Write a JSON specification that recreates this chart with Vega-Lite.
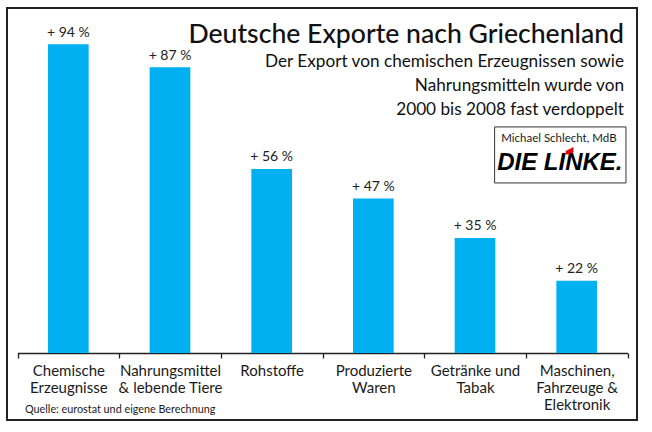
{
  "$schema": "https://vega.github.io/schema/vega-lite/v6.json",
  "width": 630,
  "height": 412,
  "autosize": "none",
  "padding": {"left": 7, "top": 8, "right": 15, "bottom": 12},
  "background": "white",
  "config": {
    "view": {"stroke": "#222222", "strokeWidth": 2},
    "font": "Lato",
    "axis": {"grid": false}
  },
  "title": {
    "text": "Deutsche Exporte nach Griechenland",
    "subtitle": ["Der Export von chemischen Erzeugnissen sowie", "Nahrungsmitteln wurde von", "2000 bis 2008 fast verdoppelt"],
    "orient": "top",
    "anchor": "end",
    "frame": "group",
    "offset": -110,
    "dx": -13,
    "font": "Lato",
    "fontSize": 26.6,
    "fontWeight": 500,
    "color": "#111111",
    "subtitleFont": "Lato",
    "subtitleFontSize": 17.2,
    "subtitleLineHeight": 24,
    "subtitlePadding": 4,
    "subtitleColor": "#111111"
  },
  "resolve": {"scale": {"x": "independent"}},
  "layer": [
    {
      "data": {
        "values": [
          {"kategorie": "Chemische\nErzeugnisse", "wert": 94, "label": "+ 94 %"},
          {"kategorie": "Nahrungsmittel\n& lebende Tiere", "wert": 87, "label": "+ 87 %"},
          {"kategorie": "Rohstoffe", "wert": 56, "label": "+ 56 %"},
          {"kategorie": "Produzierte\nWaren", "wert": 47, "label": "+ 47 %"},
          {"kategorie": "Getränke und\nTabak", "wert": 35, "label": "+ 35 %"},
          {"kategorie": "Maschinen,\nFahrzeuge &\nElektronik", "wert": 22, "label": "+ 22 %"}
        ]
      },
      "encoding": {
        "x": {
          "field": "kategorie",
          "type": "nominal",
          "sort": null,
          "scale": {"type": "band", "paddingInner": 0, "paddingOuter": 0, "range": [10.5, 620.5]},
          "axis": {
            "title": null,
            "orient": "bottom",
            "offset": -67,
            "labelAngle": 0,
            "labelExpr": "split(datum.label, '\\n')",
            "labelFont": "Lato",
            "labelFontSize": 15,
            "labelLineHeight": 17,
            "labelColor": "#1a1a1a",
            "labelPadding": 5,
            "labelBaseline": "top",
            "labelLimit": 0,
            "domainColor": "#222222",
            "domainWidth": 1.3,
            "tickColor": "#222222",
            "tickWidth": 1.3,
            "tickSize": 5,
            "tickBand": "extent"
          }
        },
        "y": {
          "field": "wert",
          "type": "quantitative",
          "scale": {"domain": [-20.4, 105], "nice": false, "zero": false},
          "axis": null
        }
      },
      "layer": [
        {
          "mark": {"type": "bar", "color": "#00b0f0", "width": {"band": 0.4}},
          "encoding": {"y2": {"datum": 0}}
        },
        {
          "mark": {"type": "text", "dy": -7.5, "baseline": "alphabetic", "fontSize": 14, "color": "#222222", "font": "Lato"},
          "encoding": {"text": {"field": "label"}}
        }
      ]
    },
    {
      "encoding": {
        "x": {"field": "px", "type": "quantitative", "scale": {"domain": [0, 1], "nice": false, "zero": false}, "axis": null},
        "y": {"field": "py", "type": "quantitative"}
      },
      "layer": [
        {
          "data": {"values": [{"px": 0.774, "px2": 0.9825, "py": 68.8, "py2": 51.75}]},
          "mark": {"type": "rect", "fill": "white", "stroke": "#333333", "strokeWidth": 1},
          "encoding": {"x2": {"field": "px2"}, "y2": {"field": "py2"}}
        },
        {
          "data": {"values": [{"px": 0.876, "py": 64.3, "txt": "Michael Schlecht, MdB"}]},
          "mark": {"type": "text", "align": "center", "baseline": "alphabetic", "fontSize": 11.5, "color": "#1a1a1a", "font": "Lato"},
          "encoding": {"text": {"field": "txt"}}
        },
        {
          "data": {"values": [{"px": 0.778, "py": 55.7, "txt": "DIE LINKE."}]},
          "mark": {"type": "text", "align": "left", "baseline": "alphabetic", "fontSize": 24, "fontWeight": "bold", "fontStyle": "italic", "color": "#000000", "font": "Liberation Sans"},
          "encoding": {"text": {"field": "txt"}}
        },
        {
          "data": {"values": [{"px": 0.893, "py": 61.5}]},
          "mark": {"type": "point", "shape": "M -1 0 L 1 -1 L 1 0.4 L -1 1 Z", "filled": true, "opacity": 1, "color": "#e3000f", "size": 60},
          "encoding": {}
        },
        {
          "data": {"values": [{"px": 0.0286, "py": -18.2, "txt": "Quelle: eurostat und eigene Berechnung"}]},
          "mark": {"type": "text", "align": "left", "baseline": "alphabetic", "fontSize": 10.8, "color": "#1a1a1a", "font": "Lato"},
          "encoding": {"text": {"field": "txt"}}
        }
      ]
    }
  ]
}
